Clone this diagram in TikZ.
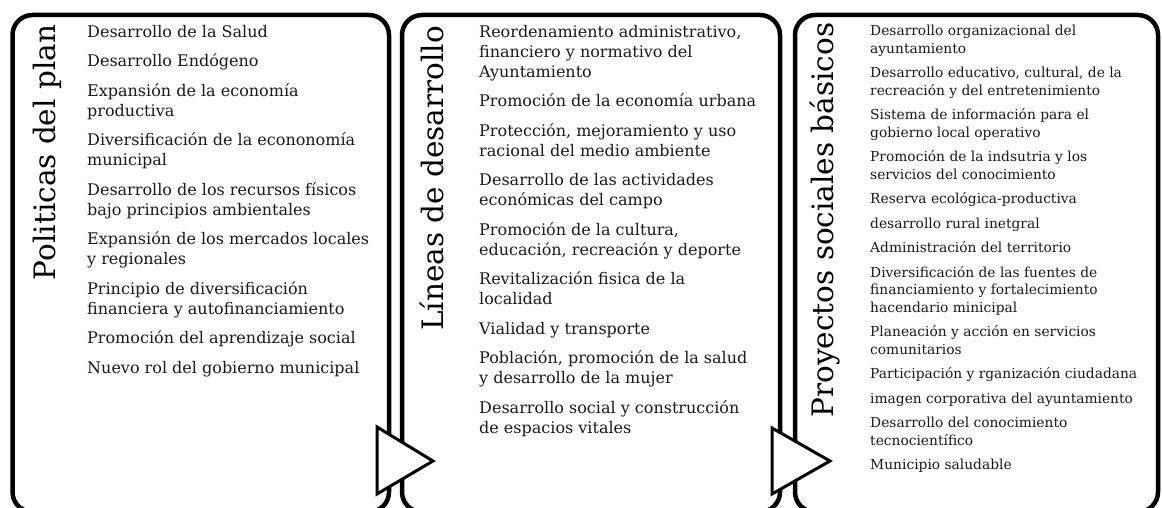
\documentclass[tikz,border=0pt]{standalone}
\usepackage{fontspec}
\setmainfont{DejaVu Serif}
\usetikzlibrary{positioning}

\begin{document}
\begin{tikzpicture}[
        x=1pt, y=-1pt,
        panel/.style={rectangle, draw, line width=4.5pt, rounded corners=20pt, inner sep=0pt},
        heading/.style={rotate=90, anchor=base, inner sep=0pt, font=\fontsize{29.5}{34}\selectfont},
        items/.style={anchor=north west, align=left, inner sep=0pt, text=black!90, font=\fontsize{16}{20}\selectfont},
        smallitems/.style={items, font=\fontsize{13.8}{17.5}\selectfont},
        pointer/.style={draw, fill=white, line width=3pt, line join=miter}
    ]
    \useasboundingbox (0,0) rectangle (1162,508);

    % Panels
    \node[panel, minimum width=376.5pt, minimum height=497pt] (politicas) at (200.75,263.5) {};
    \node[panel, minimum width=378pt, minimum height=497pt] (lineas) at (591,263.5) {};
    \node[panel, minimum width=363pt, minimum height=497pt] (proyectos) at (976.5,263.5) {};

    % Pointers between panels
    \draw[pointer] (377,427) -- (433,461) -- (377,494) -- cycle;
    \draw[pointer] (772,428) -- (830,461) -- (772,494) -- cycle;

    % Politicas del plan
    \node[heading] (politicas_title) at (55,152.5) {Politicas del plan};
    \node[items] (politicas_list) at (87,25) {
        Desarrollo de la Salud\\[9.5pt]
        Desarrollo Endógeno\\[9.5pt]
        Expansión de la economía\\ productiva\\[9.5pt]
        Diversificación de la econonomía\\ municipal\\[9.5pt]
        Desarrollo de los recursos físicos\\ bajo principios ambientales\\[9.5pt]
        Expansión de los mercados locales\\ y regionales\\[9.5pt]
        Principio de diversificación\\ financiera y autofinanciamiento\\[9.5pt]
        Promoción del aprendizaje social\\[9.5pt]
        Nuevo rol del gobierno municipal
    };

    % Lineas de desarrollo
    \node[heading] (lineas_title) at (443,178.5) {Líneas de desarrollo};
    \node[items] (lineas_list) at (479,25) {
        Reordenamiento administrativo,\\ financiero y normativo del\\ Ayuntamiento\\[9.5pt]
        Promoción de la economía urbana\\[9.5pt]
        Protección, mejoramiento y uso\\ racional del medio ambiente\\[9.5pt]
        Desarrollo de las actividades\\ económicas del campo\\[9.5pt]
        Promoción de la cultura,\\ educación, recreación y deporte\\[9.5pt]
        Revitalización fisica de la\\ localidad\\[9.5pt]
        Vialidad y transporte\\[9.5pt]
        Población, promoción de la salud\\ y desarrollo de la mujer\\[9.5pt]
        Desarrollo social y construcción\\ de espacios vitales
    };

    % Proyectos sociales basicos
    \node[heading] (proyectos_title) at (833,220) {Proyectos sociales básicos};
    \node[smallitems] (proyectos_list) at (870,25) {
        Desarrollo organizacional del\\ ayuntamiento\\[7pt]
        Desarrollo educativo, cultural, de la\\ recreación y del entretenimiento\\[7pt]
        Sistema de información para el\\ gobierno local operativo\\[7pt]
        Promoción de la indsutria y los\\ servicios del conocimiento\\[7pt]
        Reserva ecológica-productiva\\[7pt]
        desarrollo rural inetgral\\[7pt]
        Administración del territorio\\[7pt]
        Diversificación de las fuentes de\\ financiamiento y fortalecimiento\\ hacendario minicipal\\[7pt]
        Planeación y acción en servicios\\ comunitarios\\[7pt]
        Participación y rganización ciudadana\\[7pt]
        imagen corporativa del ayuntamiento\\[7pt]
        Desarrollo del conocimiento\\ tecnocientífico\\[7pt]
        Municipio saludable
    };
\end{tikzpicture}
\end{document}
